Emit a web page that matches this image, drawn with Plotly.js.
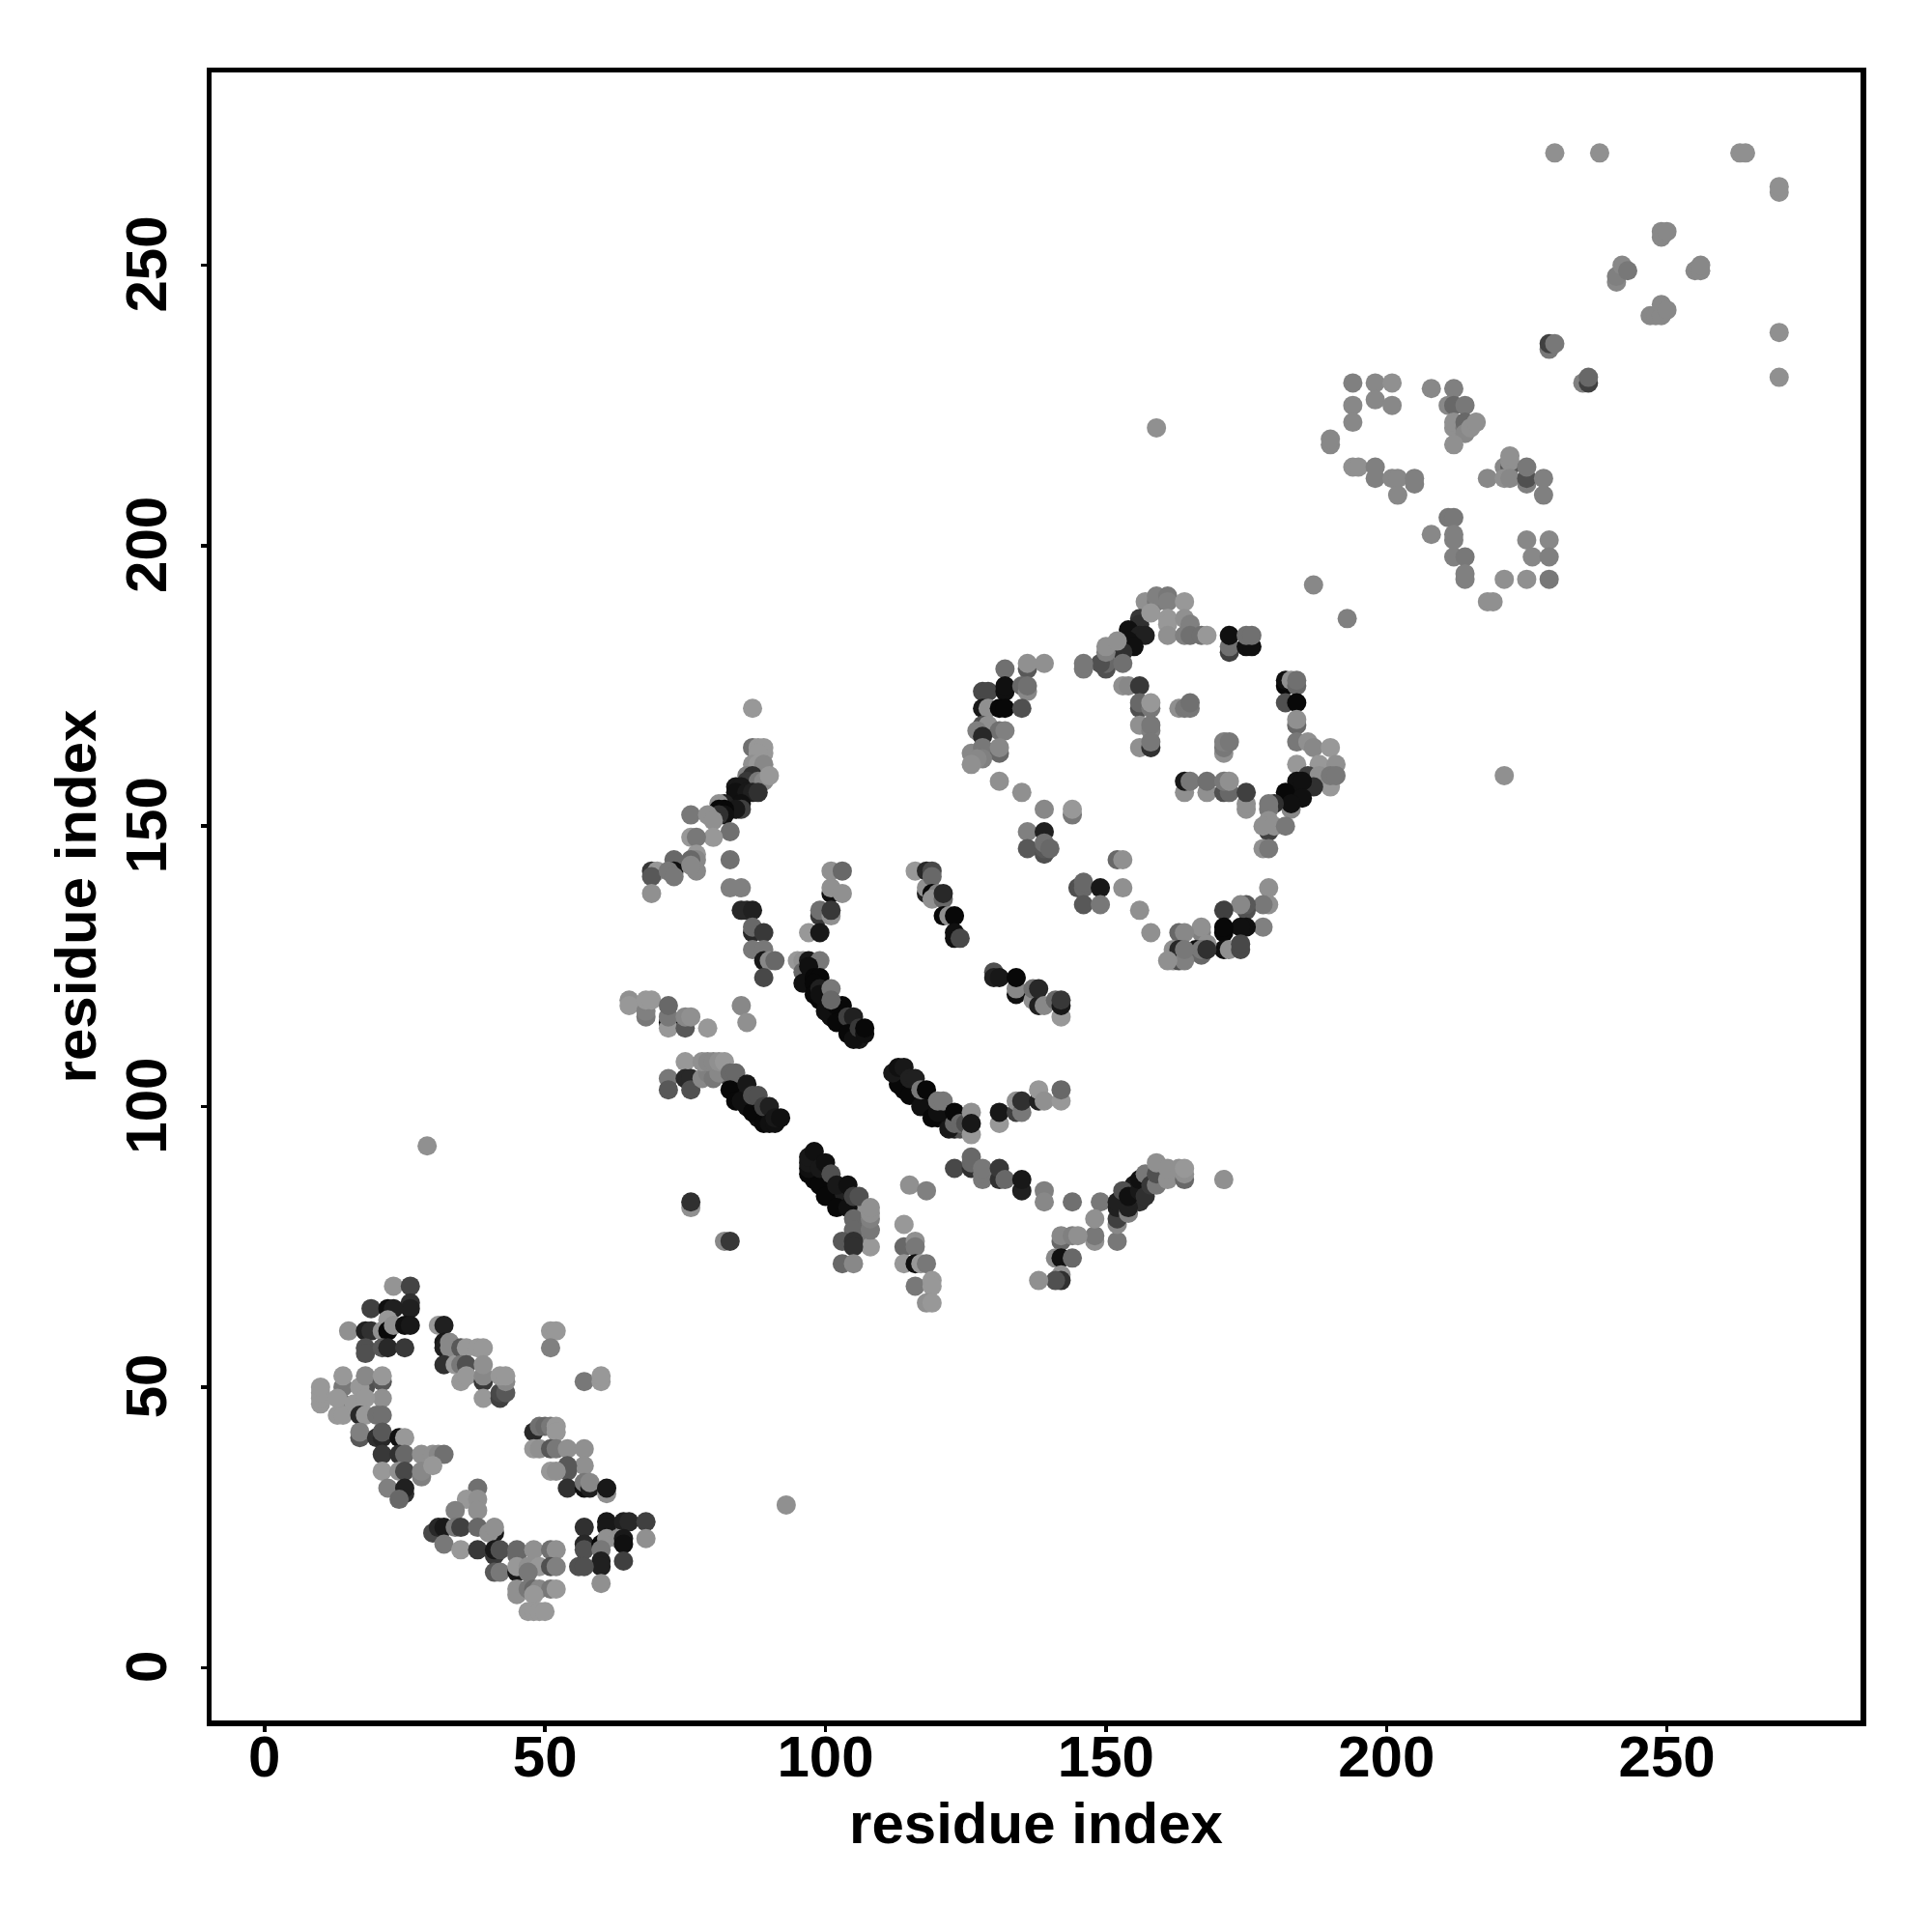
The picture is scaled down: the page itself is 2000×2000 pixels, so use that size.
<!DOCTYPE html>
<html><head><meta charset="utf-8">
<script src="https://cdn.plot.ly/plotly-3.0.1.min.js"></script>
<style>html,body{margin:0;padding:0;background:#fff}</style></head>
<body><div id="chart" style="width:2000px;height:2000px"></div>
<script>
// each contact: [residue i, residue j, gray level]
const strandFillA=[[98,89,0x10],[98,87,0x08],[99,87,0x10],[100,88,0x30],[101,86,0x10],[101,84,0x08],[102,84,0x10],[103,83,0x08],[103,85,0x20],[106,80,0x60],[106,78,0x70],[107,79,0x70],[107,77,0x70],[106,82,0x60],[107,82,0x88]];
const strandFillB=[[97,123,0x10],[97,122,0x18],[98,121,0x10],[99,119,0x08],[100,119,0x10],[100,120,0x10],[101,117,0x08],[101,116,0x10],[102,117,0x30],[103,115,0x10],[103,116,0x30],[104,115,0x08],[105,114,0x20],[105,113,0x10],[106,113,0x20]];
const strandFillC=[[83,105,0x50],[84,104,0x20],[84,103,0x10],[85,103,0x30],[85,102,0x10],[86,102,0x20],[86,100,0x10],[87,101,0x10],[88,100,0x20],[88,99,0x08],[88,98,0x10],[89,98,0x10],[90,98,0x18],[90,99,0x20]];
const strandFillD=[[113,106,0x10],[113,105,0x08],[114,105,0x20],[114,103,0x08],[115,104,0x20],[116,102,0x10],[116,103,0x10],[117,102,0x08],[118,100,0x08],[118,101,0x10],[119,100,0x10],[119,101,0x50],[120,98,0x08],[121,98,0x10],[121,99,0x20],[122,98,0x10],[123,96,0x20],[124,96,0x50],[125,96,0x50]];
const strandFillE=[[183,155,0x10],[184,156,0x10],[186,157,0x28],[186,158,0x30],[187,158,0x40],[155,184,0x10],[155,185,0x20],[154,184,0x10],[152,182,0x50],[152,181,0x70],[155,84,0x10],[155,86,0x18],[153,83,0x20],[153,81,0x30],[157,86,0x20],[158,88,0x60],[160,88,0x88],[160,89,0x88],[156,83,0x30]];
const nTermTop=[[23,68,0x8c],[26,68,0x44],[26,65,0x30],[26,64,0x20],[19,64,0x40],[22,64,0x10],[23,64,0x20],[15,60,0x88],[18,60,0x20],[19,60,0x30],[21,60,0x88],[22,62,0x90],[22,60,0x08],[23,61,0x88],[25,61,0x10],[26,61,0x18],[18,57,0x50],[18,56,0x50],[21,57,0x58],[22,57,0x28],[25,57,0x38]];
const nTermMid=[[31,61,0x90],[32,61,0x20],[32,58,0x18],[32,57,0x20],[33,58,0x80],[33,57,0x80],[32,54,0x30],[34,54,0x90],[35,57,0x58],[36,57,0x90],[38,57,0x90],[39,57,0x90],[35,54,0x70],[36,54,0x50],[35,51,0x90],[36,52,0x90],[39,51,0x38],[39,52,0x80],[39,54,0x88],[39,48,0x90],[42,48,0x40],[42,49,0x48],[43,49,0x58],[43,51,0x80],[42,52,0x90],[43,52,0x90],[51,60,0x90],[52,60,0x90],[51,57,0x78],[57,51,0x70],[60,51,0x90],[60,52,0x90]];
const nTermLeft=[[10,47,0x90],[10,48,0x90],[10,49,0x90],[10,50,0x90],[14,50,0x70],[14,47,0x70],[14,52,0x90],[13,45,0x90],[14,45,0x90],[13,48,0x90],[18,50,0x50],[17,50,0x90],[18,52,0x80],[21,51,0x58],[21,52,0x90],[21,48,0x88],[17,47,0x90],[16,47,0x90],[18,48,0x90],[17,45,0x28],[18,45,0x90],[20,45,0x68],[21,45,0x68],[17,41,0x58],[17,42,0x78],[20,41,0x30],[21,41,0x28],[21,42,0x58],[24,41,0x10],[25,41,0x90],[21,38,0x38],[24,38,0x30],[25,38,0x60],[28,38,0x88],[30,38,0x88],[31,38,0x80],[32,38,0x68],[21,35,0x90],[24,35,0x88],[25,35,0x48],[28,34,0x78],[28,35,0x80],[30,36,0x90],[22,32,0x78],[25,31,0x30],[25,32,0x20],[24,30,0x60]];
const nTermBottom=[[38,32,0x68],[36,30,0x90],[38,30,0x88],[38,28,0x88],[34,28,0x78],[30,24,0x48],[31,25,0x28],[32,25,0x18],[34,25,0x70],[35,25,0x40],[38,25,0x60],[41,24,0x18],[40,24,0x88],[41,25,0x88],[32,22,0x70],[35,21,0x90],[38,21,0x38],[41,20,0x38],[41,21,0x18],[42,21,0x50],[45,20,0x60],[45,21,0x60],[48,21,0x88],[51,21,0x68],[52,21,0x88],[41,17,0x58],[42,17,0x70],[45,17,0x18],[45,18,0x90],[47,18,0x88],[49,18,0x90],[51,18,0x50],[52,18,0x78],[47,17,0x70],[45,14,0x88],[45,13,0x88],[47,14,0x70],[48,14,0x60],[49,14,0x80],[51,14,0x70],[52,14,0x90],[48,13,0x90],[47,10,0x90],[48,10,0x90],[49,10,0x90],[50,10,0x90]];
const nTermRight=[[57,25,0x30],[61,26,0x18],[61,25,0x18],[64,26,0x20],[65,26,0x28],[68,26,0x40],[68,23,0x88],[57,22,0x28],[57,21,0x50],[60,22,0x08],[61,23,0x88],[63,23,0x88],[64,23,0x18],[64,22,0x10],[60,21,0x70],[60,19,0x20],[60,18,0x20],[56,18,0x50],[57,18,0x50],[64,19,0x40],[60,15,0x88],[48,42,0x28],[49,43,0x68],[50,43,0x60],[51,43,0x70],[52,43,0x90],[52,42,0x90],[48,39,0x90],[49,39,0x88],[51,39,0x58],[52,39,0x70],[54,39,0x88],[57,39,0x88],[57,36,0x88],[54,35,0x58],[54,36,0x58],[51,35,0x90],[52,35,0x88],[54,32,0x30],[57,32,0x10],[57,33,0x70],[58,32,0x20],[58,33,0x80],[61,31,0x88],[61,32,0x18]];
const armUpper=[[87,171,0x90],[87,164,0x68],[88,164,0x90],[89,163,0x90],[89,164,0x90],[88,163,0x90],[87,161,0x88],[88,161,0x90],[89,161,0x80],[86,159,0x78],[87,159,0x30],[86,158,0x38],[88,158,0x70],[89,158,0x80],[90,159,0x90],[84,157,0x18],[85,157,0x18],[84,156,0x10],[86,156,0x18],[87,156,0x20],[88,156,0x30],[85,154,0x10],[82,154,0x20],[81,154,0x88],[85,153,0x40],[84,153,0x18],[82,153,0x08],[81,153,0x08],[82,152,0x10],[81,152,0x30],[76,152,0x70],[79,152,0x88],[80,151,0x88],[83,149,0x68],[80,148,0x90],[76,148,0x90],[77,148,0x70],[77,145,0x90],[77,144,0x80],[83,144,0x68],[76,144,0x60],[73,144,0x60],[73,142,0x10],[77,142,0x80],[76,143,0x80],[69,142,0x38],[70,142,0x90],[69,141,0x58],[72,142,0x70],[73,141,0x70],[69,138,0x88],[83,139,0x78],[85,139,0x78],[85,135,0x28],[86,135,0x28],[87,135,0x20],[87,131,0x28],[87,132,0x60],[89,131,0x38],[87,128,0x70],[89,128,0x70],[89,126,0x18],[90,126,0x80],[91,126,0x60],[89,123,0x48]];
const armInner=[[101,142,0x88],[103,142,0x60],[101,138,0x10],[101,139,0x88],[103,138,0x88],[99,134,0x38],[99,135,0x68],[101,134,0x88],[101,135,0x38],[97,131,0x90],[99,131,0x18],[95,126,0x90],[96,126,0x88],[97,126,0x18],[99,126,0x70],[96,124,0x60],[96,122,0x10],[97,125,0x10],[98,123,0x08],[99,123,0x08],[98,122,0x08],[98,120,0x08],[99,121,0x20],[99,120,0x10],[101,121,0x70],[100,117,0x10],[102,118,0x08],[103,118,0x08],[101,119,0x60],[102,115,0x08],[104,116,0x40],[105,116,0x20],[104,113,0x08],[106,112,0x18],[105,112,0x10],[106,114,0x38],[107,113,0x10],[107,114,0x08]];
const armOuter=[[116,142,0x90],[118,142,0x28],[119,142,0x48],[118,138,0x20],[118,139,0x88],[119,141,0x60],[119,138,0x08],[120,138,0x78],[119,137,0x88],[121,137,0x60],[121,138,0x28],[121,134,0x08],[122,134,0x88],[123,134,0x08],[123,130,0x10],[123,131,0x10],[124,130,0x48],[130,124,0x50],[130,123,0x20],[131,123,0x18],[134,120,0x10],[134,121,0x80],[134,123,0x08],[137,119,0x88],[137,121,0x68],[138,118,0x20],[138,121,0x28],[139,118,0x80],[141,119,0x60],[142,116,0x90],[142,118,0x18],[142,119,0x38]];
const strandLeft=[[65,119,0x88],[65,118,0x90],[68,116,0x70],[68,117,0x78],[68,119,0x90],[69,119,0x90],[72,115,0x10],[72,114,0x90],[72,116,0x70],[72,118,0x60],[75,114,0x58],[75,116,0x80],[76,116,0x88],[79,114,0x90],[85,118,0x80],[86,115,0x88]];
const strandLow=[[75,108,0x90],[72,105,0x70],[72,103,0x58],[75,105,0x28],[76,105,0x28],[76,103,0x50],[78,105,0x80],[79,106,0x78],[80,105,0x70],[81,106,0x80],[78,108,0x88],[79,108,0x80],[80,108,0x80],[81,108,0x88],[82,108,0x90],[83,106,0x60],[84,106,0x60],[83,103,0x08],[84,101,0x08],[85,101,0x10],[86,104,0x18],[87,99,0x08],[87,102,0x50],[88,102,0x50],[89,97,0x08],[89,100,0x40],[90,100,0x20],[90,97,0x10],[91,97,0x10],[91,98,0x18],[92,98,0x10]];
const strandMid=[[113,104,0x08],[112,106,0x18],[113,107,0x10],[114,107,0x18],[115,102,0x08],[115,105,0x20],[116,105,0x20],[117,100,0x10],[117,103,0x70],[118,103,0x08],[119,98,0x08],[120,99,0x10],[120,101,0x70],[121,101,0x70],[122,96,0x18],[123,97,0x60],[123,99,0x08],[124,97,0x60],[125,97,0x50],[126,95,0x90],[126,99,0x88],[126,97,0x18],[131,97,0x90],[131,99,0x18],[134,99,0x40],[134,101,0x88],[135,99,0x70],[135,101,0x30],[138,101,0x20],[138,103,0x90],[139,101,0x88],[142,101,0x90],[142,103,0x60]];
const strandDown=[[97,88,0x08],[97,89,0x10],[97,90,0x18],[97,91,0x18],[98,92,0x10],[99,86,0x08],[99,89,0x18],[100,90,0x10],[100,84,0x08],[101,88,0x50],[102,82,0x08],[102,86,0x18],[104,86,0x10],[104,82,0x10],[105,84,0x40],[105,80,0x60],[105,78,0x60],[106,84,0x50],[108,75,0x90],[108,78,0x70],[108,80,0x78],[108,81,0x88],[108,82,0x88],[103,76,0x58],[105,76,0x30],[105,75,0x30],[103,72,0x60],[105,72,0x80],[76,82,0x88],[76,83,0x30],[82,76,0x80],[83,76,0x38]];
const strandSide=[[115,86,0x88],[118,85,0x78],[114,79,0x90],[114,75,0x60],[116,76,0x88],[116,75,0x70],[114,72,0x90],[116,72,0x10],[117,72,0x90],[118,72,0x70],[116,68,0x70],[119,69,0x90],[119,68,0x90],[118,65,0x88],[119,65,0x90]];
const strandCross=[[123,89,0x48],[126,89,0x30],[126,90,0x60],[126,91,0x60],[128,87,0x70],[128,88,0x70],[128,89,0x70],[131,87,0x30],[131,89,0x38],[132,87,0x60],[135,85,0x20],[135,87,0x18],[139,85,0x78],[139,83,0x80],[144,83,0x68],[149,83,0x70],[148,76,0x88],[148,77,0x70],[148,80,0x88],[142,76,0x60],[142,77,0x80],[144,77,0x78],[145,77,0x88],[141,73,0x80],[142,73,0x10],[144,73,0x60],[142,70,0x88],[142,69,0x30],[141,69,0x50],[138,69,0x88],[152,76,0x70]];
const strandRise=[[152,79,0x80],[152,80,0x40],[152,82,0x20],[152,83,0x20],[153,85,0x50],[154,81,0x78],[154,82,0x20],[154,84,0x10],[156,85,0x18],[156,87,0x10],[157,84,0x30],[157,88,0x70],[158,86,0x38],[159,86,0x70],[159,88,0x50],[159,90,0x88],[161,87,0x88],[161,89,0x88],[163,89,0x88],[164,87,0x60],[164,88,0x88],[164,89,0x90],[171,87,0x88]];
const ringTop=[[187,193,0x80],[193,187,0x78],[157,190,0x88],[159,190,0x70],[159,191,0x78],[161,191,0x70],[161,190,0x78],[164,190,0x90],[156,187,0x38],[156,186,0x30],[158,188,0x90],[161,187,0x90],[161,186,0x90],[161,184,0x88],[164,187,0x88],[165,186,0x78],[164,184,0x78],[165,184,0x68],[154,185,0x10],[156,184,0x20],[157,184,0x20],[153,183,0x10],[154,183,0x10],[155,182,0x10],[153,181,0x30],[167,184,0x68],[168,184,0x90],[172,181,0x40],[172,182,0x68],[172,184,0x10],[175,182,0x10],[176,182,0x10],[175,184,0x68],[176,184,0x68],[150,178,0x50],[150,179,0x60],[149,179,0x50],[150,181,0x78],[150,182,0x88],[152,183,0x88],[153,179,0x68],[146,178,0x70],[146,179,0x70]];
const ringCore=[[153,175,0x88],[154,175,0x80],[156,175,0x38],[156,171,0x50],[156,172,0x60],[158,171,0x70],[158,172,0x90],[156,168,0x88],[158,167,0x78],[158,168,0x70],[156,164,0x88],[158,164,0x30],[158,165,0x70],[163,171,0x88],[164,171,0x70],[165,171,0x70],[165,172,0x68],[171,163,0x88],[171,164,0x70],[171,165,0x78],[172,165,0x70],[164,156,0x88],[164,158,0x18],[165,158,0x70],[168,156,0x88],[168,158,0x68],[171,156,0x50],[172,156,0x60],[171,158,0x70],[172,158,0x88],[175,153,0x88],[175,154,0x88],[175,156,0x40]];
const ringRight=[[182,175,0x08],[182,176,0x10],[183,176,0x88],[184,175,0x60],[184,176,0x68],[182,172,0x50],[184,172,0x08],[184,168,0x60],[184,169,0x88],[184,165,0x70],[186,165,0x88],[187,164,0x80],[190,164,0x90],[184,161,0x90],[188,161,0x90],[191,161,0x88],[190,157,0x90],[186,159,0x40],[188,159,0x88],[190,159,0x70],[191,159,0x70],[187,157,0x30],[184,158,0x10],[185,158,0x10],[182,156,0x08],[185,155,0x10],[183,153,0x80],[183,154,0x10],[180,154,0x30],[179,153,0x70],[179,154,0x70],[179,151,0x88],[179,149,0x40],[178,150,0x88],[180,150,0x88],[182,150,0x70],[178,146,0x88],[179,146,0x70]];
const ringLeft=[[132,178,0x68],[136,178,0x58],[136,179,0x88],[139,179,0x88],[128,174,0x48],[129,174,0x48],[132,174,0x10],[132,175,0x10],[135,175,0x60],[136,174,0x80],[136,175,0x68],[128,171,0x18],[129,171,0x88],[131,171,0x08],[132,171,0x08],[135,171,0x50],[128,168,0x50],[129,168,0x88],[127,167,0x78],[131,167,0x68],[132,167,0x78],[128,166,0x28],[126,163,0x80],[128,163,0x40],[128,164,0x70],[131,163,0x60],[131,164,0x80],[128,162,0x78],[127,162,0x80],[126,161,0x88]];
const ringLower=[[131,158,0x88],[135,156,0x88],[139,153,0x80],[144,152,0x70],[144,153,0x90],[136,149,0x78],[139,149,0x20],[136,146,0x58],[139,145,0x50],[139,146,0x58],[139,147,0x68],[140,146,0x60],[152,144,0x60],[153,144,0x88],[145,139,0x50],[146,139,0x60],[146,140,0x60],[149,139,0x18],[153,139,0x88],[146,136,0x58],[149,136,0x70],[156,135,0x88],[158,131,0x88]];
const ringBottom=[[179,139,0x88],[179,136,0x88],[178,136,0x70],[175,135,0x50],[175,136,0x58],[174,136,0x80],[171,135,0x40],[178,132,0x78],[175,132,0x10],[174,132,0x10],[171,131,0x08],[171,132,0x08],[167,131,0x78],[167,132,0x88],[163,131,0x60],[164,131,0x80],[171,128,0x10],[172,128,0x88],[174,128,0x48],[174,129,0x48],[168,129,0x88],[166,128,0x10],[167,127,0x60],[167,128,0x70],[168,128,0x30],[162,126,0x88],[162,128,0x88],[163,126,0x50],[163,127,0x30],[163,128,0x28],[164,126,0x78],[164,128,0x70],[161,126,0x88]];
const cTermBlocks=[[194,229,0x78],[198,229,0x80],[201,229,0x88],[194,225,0x80],[198,226,0x80],[201,225,0x80],[194,222,0x80],[190,218,0x80],[190,219,0x80],[194,214,0x88],[195,214,0x88],[198,212,0x78],[198,214,0x78],[201,212,0x80],[202,212,0x80],[202,209,0x80],[205,211,0x78],[205,212,0x78],[208,228,0x80],[212,228,0x78],[211,225,0x80],[212,225,0x60],[214,225,0x70],[212,221,0x88],[212,222,0x88],[214,221,0x70],[214,222,0x60],[214,220,0x80],[215,221,0x88],[216,222,0x88],[212,218,0x88],[218,212,0x80],[221,214,0x80],[222,214,0x58],[222,215,0x88],[222,216,0x88],[221,212,0x88],[222,212,0x80],[225,211,0x78],[225,212,0x50],[225,214,0x70],[228,212,0x78],[228,209,0x78],[211,205,0x70],[212,205,0x70],[208,202,0x80],[212,201,0x78],[212,202,0x78],[212,198,0x78],[214,198,0x70],[214,194,0x78],[214,195,0x78],[218,190,0x88],[219,190,0x88],[221,194,0x88],[225,194,0x88],[229,194,0x70],[225,201,0x80],[229,201,0x80],[226,198,0x80],[229,198,0x78]];
const cTermEnd=[[230,270,0x88],[238,270,0x88],[263,270,0x88],[264,270,0x88],[270,263,0x88],[270,264,0x88],[249,255,0x80],[249,256,0x80],[250,256,0x80],[241,247,0x80],[241,248,0x78],[242,249,0x78],[242,250,0x80],[243,249,0x70],[255,249,0x80],[256,249,0x80],[256,250,0x80],[247,241,0x80],[248,241,0x80],[249,241,0x80],[249,243,0x80],[250,242,0x80],[229,235,0x70],[229,236,0x40],[230,236,0x70],[235,229,0x78],[236,229,0x40],[236,230,0x60],[270,238,0x88],[270,230,0x88]];
const isolated=[[29,93,0x88],[93,29,0x88],[159,221,0x88],[221,159,0x88]];
const tickValues=[0,50,100,150,200,250];
const axisLabel="residue index";

const contacts=[].concat(strandFillA,strandFillB,strandFillC,strandFillD,strandFillE,nTermTop,nTermMid,nTermLeft,nTermBottom,nTermRight,armUpper,armInner,armOuter,strandLeft,strandLow,strandMid,strandDown,strandSide,strandCross,strandRise,ringTop,ringCore,ringRight,ringLeft,ringLower,ringBottom,cTermBlocks,cTermEnd,isolated);
const font="'Liberation Sans',Arial,sans-serif";
function shade(g){const v=g>=0x60?g+8:g;return `rgb(${v},${v},${v})`;}
function axis(range){return{
  range:range,tickmode:'array',tickvals:tickValues,ticktext:tickValues.map(String),
  ticks:'outside',ticklen:6,tickwidth:3.5,tickcolor:'#000',
  showline:true,mirror:true,linecolor:'#000',linewidth:5.5,showgrid:false,zeroline:false,
  tickfont:{family:font,size:60,color:'#000',weight:700},automargin:false,
  title:{text:'<b>'+axisLabel+'</b>',font:{family:font,size:60,color:'#000'},standoff:0}
};}
const xa=axis([-9.43,284.5]); xa.ticklabelstandoff=-26; xa.title.standoff=17;
const ya=axis([-9.42,284.35]); ya.tickangle=-90; ya.ticklabelstandoff=12; ya.ticklabelshift=8; ya.title.standoff=0;
Plotly.newPlot('chart',[{type:'scatter',mode:'markers',
  x:contacts.map(c=>c[0]),y:contacts.map(c=>c[1]),
  marker:{size:20,line:{width:0},color:contacts.map(c=>shade(c[2]))},
  hoverinfo:'skip',showlegend:false}],
 {width:2000,height:2000,margin:{l:218.75,r:74.45,t:74.95,b:219},paper_bgcolor:'#fff',plot_bgcolor:'#fff',
  xaxis:xa,yaxis:ya,showlegend:false},{staticPlot:true});
</script></body></html>
